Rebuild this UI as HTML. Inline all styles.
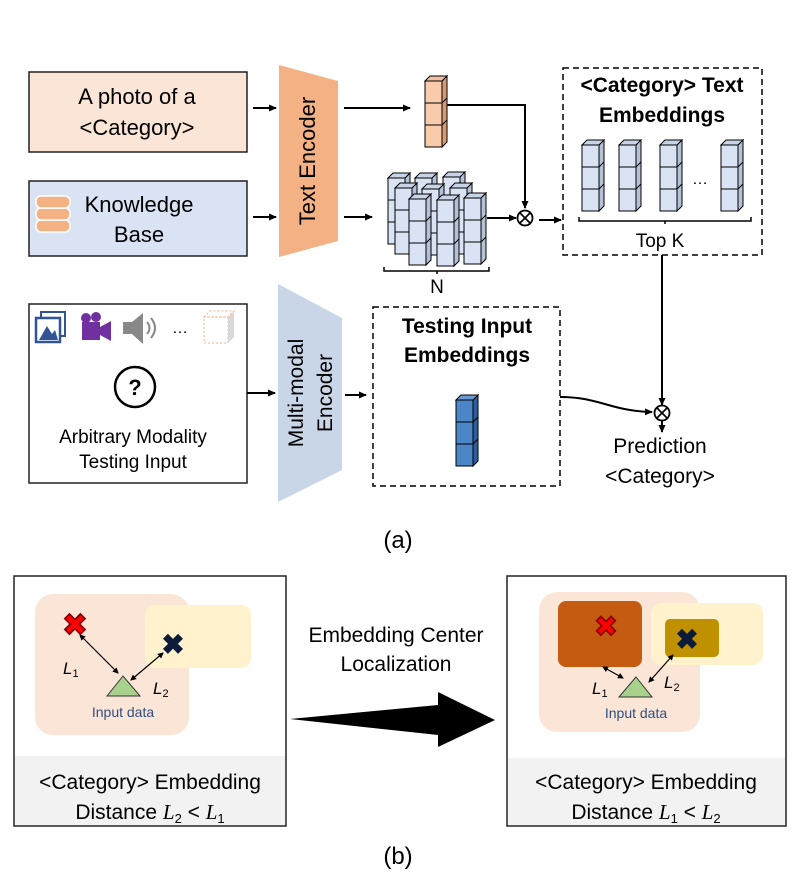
<!DOCTYPE html>
<html><head><meta charset="utf-8"><style>
html,body{margin:0;padding:0;background:#fff}
svg{display:block}
text{font-family:"Liberation Sans",sans-serif}
</style></head><body>
<svg width="797" height="889" viewBox="0 0 797 889" xmlns="http://www.w3.org/2000/svg">
<defs>
<marker id="ah" markerWidth="8" markerHeight="8" refX="7" refY="4" orient="auto" markerUnits="userSpaceOnUse"><path d="M0,0.5 L8,4 L0,7.5 z" fill="#000"/></marker>
<marker id="ahs" markerWidth="6" markerHeight="6" refX="5" refY="3" orient="auto-start-reverse" markerUnits="userSpaceOnUse"><path d="M0,0 L6,3 L0,6 z" fill="#000"/></marker>
<g id="colB">
<polygon points="17,0 22,-5 22,61 17,66" fill="#b4c2d8" stroke="#000" stroke-width="1"/>
<polygon points="0,0 5,-5 22,-5 17,0" fill="#c8d4e8" stroke="#000" stroke-width="1"/>
<rect x="0" y="0" width="17" height="66" fill="#dae3f3" stroke="#000" stroke-width="1"/>
<path d="M0,22 H17 L22,17 M0,44 H17 L22,39" fill="none" stroke="#000" stroke-width="1"/>
</g>
<g id="colO">
<polygon points="17,0 22,-5 22,61 17,66" fill="#d89a70" stroke="#000" stroke-width="1"/>
<polygon points="0,0 5,-5 22,-5 17,0" fill="#f0c0a0" stroke="#000" stroke-width="1"/>
<rect x="0" y="0" width="17" height="66" fill="#f8cbad" stroke="#000" stroke-width="1"/>
<path d="M0,22 H17 L22,17 M0,44 H17 L22,39" fill="none" stroke="#000" stroke-width="1"/>
</g>
<g id="colD">
<polygon points="17,0 22,-5 22,61 17,66" fill="#2e5f9a" stroke="#000" stroke-width="1"/>
<polygon points="0,0 5,-5 22,-5 17,0" fill="#6a9ad4" stroke="#000" stroke-width="1"/>
<rect x="0" y="0" width="17" height="66" fill="#4a86c8" stroke="#000" stroke-width="1"/>
<path d="M0,22 H17 L22,17 M0,44 H17 L22,39" fill="none" stroke="#000" stroke-width="1"/>
</g>
</defs>

<rect x="29" y="72" width="218" height="80" fill="#fbe5d6" stroke="#222" stroke-width="1.5"/>
<text x="137" y="104" font-size="22" text-anchor="middle">A photo of a</text>
<text x="137" y="135" font-size="22" text-anchor="middle">&lt;Category&gt;</text>
<rect x="29" y="181" width="218" height="75" fill="#dae3f3" stroke="#222" stroke-width="1.5"/>
<g fill="#f4b183" stroke="#fff" stroke-width="1.5">
<rect x="36" y="220" width="34" height="12" rx="5"/>
<rect x="36" y="208" width="34" height="12" rx="5"/>
<rect x="36" y="196" width="34" height="12" rx="5"/>
</g>
<text x="139" y="212" font-size="22" text-anchor="middle">Knowledge</text>
<text x="139" y="242" font-size="22" text-anchor="middle">Base</text>
<line x1="253" y1="108" x2="276" y2="108" stroke="#000" stroke-width="2" marker-end="url(#ah)"/>
<line x1="253" y1="217" x2="276" y2="217" stroke="#000" stroke-width="2" marker-end="url(#ah)"/>

<polygon points="279,65 338,81 338,241 279,257" fill="#f4b183"/>
<text transform="translate(315,161) rotate(-90)" font-size="22" text-anchor="middle">Text Encoder</text>
<line x1="344" y1="108" x2="410" y2="108" stroke="#000" stroke-width="2" marker-end="url(#ah)"/>
<line x1="344" y1="217" x2="372" y2="217" stroke="#000" stroke-width="2" marker-end="url(#ah)"/>

<use href="#colO" x="425" y="81"/>
<use href="#colB" x="388" y="178"/><use href="#colB" x="415" y="178"/><use href="#colB" x="443" y="177"/>
<use href="#colB" x="395" y="188"/><use href="#colB" x="422" y="189"/><use href="#colB" x="450" y="188"/>
<use href="#colB" x="409" y="199"/><use href="#colB" x="437" y="200"/><use href="#colB" x="464" y="198"/>
<path d="M384,267 v4 h105 v-4 M437,271 v3" fill="none" stroke="#000" stroke-width="1.5"/>
<text x="437" y="293" font-size="19" text-anchor="middle">N</text>

<path d="M447,105 H525 V208" fill="none" stroke="#000" stroke-width="2" marker-end="url(#ah)"/>
<line x1="487" y1="218" x2="516" y2="218" stroke="#000" stroke-width="2" marker-end="url(#ah)"/>
<circle cx="525" cy="218" r="7.5" fill="#fff" stroke="#000" stroke-width="1.8"/>
<path d="M520,213 L530,223 M530,213 L520,223" stroke="#000" stroke-width="1.6"/>
<line x1="539" y1="220" x2="561" y2="220" stroke="#000" stroke-width="2" marker-end="url(#ah)"/>

<rect x="563" y="68" width="199" height="187" fill="none" stroke="#000" stroke-width="1.5" stroke-dasharray="6,4"/>
<text x="662" y="92" font-size="21" font-weight="bold" text-anchor="middle">&lt;Category&gt; Text</text>
<text x="662" y="122" font-size="21" font-weight="bold" text-anchor="middle">Embeddings</text>
<use href="#colB" x="582" y="145"/><use href="#colB" x="619" y="145"/><use href="#colB" x="660" y="145"/><use href="#colB" x="721" y="145"/>
<text x="700" y="184" font-size="16" text-anchor="middle">…</text>
<path d="M579,217 v4 h172 v-4 M665,221 v3" fill="none" stroke="#000" stroke-width="1.5"/>
<text x="660" y="247" font-size="19" text-anchor="middle">Top K</text>

<line x1="662" y1="255" x2="662" y2="405" stroke="#000" stroke-width="2" marker-end="url(#ah)"/>
<circle cx="662" cy="413" r="7.5" fill="#fff" stroke="#000" stroke-width="1.8"/>
<path d="M657,408 L667,418 M667,408 L657,418" stroke="#000" stroke-width="1.6"/>
<line x1="662" y1="421" x2="662" y2="432" stroke="#000" stroke-width="2" marker-end="url(#ah)"/>
<text x="660" y="453" font-size="21" text-anchor="middle">Prediction</text>
<text x="660" y="483" font-size="21" text-anchor="middle">&lt;Category&gt;</text>

<rect x="29" y="304" width="218" height="179" fill="#fff" stroke="#222" stroke-width="1.5"/>
<g>
<rect x="41" y="312" width="24" height="24" fill="#fff" stroke="#2f5597" stroke-width="2"/>
<rect x="36" y="318" width="24" height="24" fill="#fff" stroke="#2f5597" stroke-width="2.5"/>
<polygon points="39,340 47,326 52,334 55,330 58,340" fill="#2f5597"/>
<rect x="82" y="322" width="18" height="18" fill="#7030a0"/>
<circle cx="86" cy="318" r="5" fill="#7030a0"/><circle cx="96" cy="317" r="5" fill="#7030a0"/>
<polygon points="100,327 111,321 111,341 100,335" fill="#7030a0"/>
<rect x="123" y="322" width="9" height="12" fill="#888"/>
<polygon points="132,322 143,313 143,344 132,334" fill="#888"/>
<path d="M147,322 q5,6 0,12 M151,318 q8,10 0,20" fill="none" stroke="#888" stroke-width="2"/>
<text x="180" y="333" font-size="16" text-anchor="middle">…</text>
<rect x="204" y="317" width="24" height="26" fill="#fff" stroke="#f4b183" stroke-dasharray="2,2"/>
<polygon points="228,317 234,311 234,337 228,343" fill="#d9d9d9"/>
<polygon points="204,317 210,311 234,311 228,317" fill="none" stroke="#f4b183" stroke-dasharray="2,2"/>
</g>
<circle cx="135" cy="387" r="20" fill="none" stroke="#000" stroke-width="2.5"/>
<text x="135" y="395" font-size="22" font-weight="bold" text-anchor="middle">?</text>
<text x="133" y="443" font-size="19" text-anchor="middle">Arbitrary Modality</text>
<text x="133" y="468" font-size="19" text-anchor="middle">Testing Input</text>
<line x1="247" y1="393" x2="275" y2="393" stroke="#000" stroke-width="2" marker-end="url(#ah)"/>

<polygon points="278,284 342,318 342,470 278,502" fill="#c9d6e8"/>
<text transform="translate(303,393) rotate(-90)" font-size="21" text-anchor="middle">Multi-modal</text>
<text transform="translate(332,393) rotate(-90)" font-size="21" text-anchor="middle">Encoder</text>
<line x1="345" y1="395" x2="366" y2="395" stroke="#000" stroke-width="2" marker-end="url(#ah)"/>

<rect x="373" y="307" width="187" height="179" fill="none" stroke="#000" stroke-width="1.5" stroke-dasharray="6,4"/>
<text x="467" y="333" font-size="21" font-weight="bold" text-anchor="middle">Testing Input</text>
<text x="467" y="362" font-size="21" font-weight="bold" text-anchor="middle">Embeddings</text>
<use href="#colD" x="456" y="400"/>
<path d="M560,397 C600,397 610,411 652,412" fill="none" stroke="#000" stroke-width="2" marker-end="url(#ah)"/>

<text x="398" y="548" font-size="24" text-anchor="middle">(a)</text>

<rect x="14" y="576" width="272" height="250" fill="#fff" stroke="#222" stroke-width="1.5"/>
<rect x="15" y="756" width="270" height="69" fill="#f2f2f2"/>
<rect x="35" y="594" width="154" height="141" rx="18" fill="#fbe5d6"/>
<rect x="145" y="605" width="106" height="63" rx="10" fill="#fff2cc"/>
<text x="75" y="635" font-size="30" font-weight="bold" fill="#ff0000" stroke="#800" stroke-width="0.8" text-anchor="middle">✖</text>
<text x="173" y="654" font-size="28" font-weight="bold" fill="#0d1b3a" text-anchor="middle">✖</text>
<line x1="80" y1="635" x2="118" y2="673" stroke="#000" stroke-width="1.2" marker-start="url(#ahs)" marker-end="url(#ahs)"/>
<line x1="163" y1="653" x2="131" y2="680" stroke="#000" stroke-width="1.2" marker-start="url(#ahs)" marker-end="url(#ahs)"/>
<polygon points="123,676 107,696 140,696" fill="#a9d18e" stroke="#333" stroke-width="1"/>
<text x="63" y="674" font-size="17" font-style="italic" font-family="Liberation Serif,serif">L<tspan font-size="11" dy="3" font-style="normal">1</tspan></text>
<text x="153" y="694" font-size="17" font-style="italic" font-family="Liberation Serif,serif">L<tspan font-size="11" dy="3" font-style="normal">2</tspan></text>
<text x="123" y="717" font-size="14" fill="#2f4f80" text-anchor="middle">Input data</text>
<text x="150" y="789" font-size="21" text-anchor="middle">&lt;Category&gt; Embedding</text>
<text x="150" y="819" font-size="21" text-anchor="middle">Distance <tspan font-family="Liberation Serif,serif" font-style="italic">L</tspan><tspan font-size="13" dy="4">2</tspan><tspan dy="-4"> &lt; </tspan><tspan font-family="Liberation Serif,serif" font-style="italic">L</tspan><tspan font-size="13" dy="4">1</tspan></text>

<polygon points="290,719 438,705 438,692 495,720 438,747 438,735" fill="#000"/>
<text x="396" y="642" font-size="21" text-anchor="middle">Embedding Center</text>
<text x="396" y="671" font-size="21" text-anchor="middle">Localization</text>

<rect x="507" y="576" width="279" height="250" fill="#fff" stroke="#222" stroke-width="1.5"/>
<rect x="508" y="758" width="277" height="67" fill="#f2f2f2"/>
<rect x="539" y="592" width="161" height="140" rx="18" fill="#fbe5d6"/>
<rect x="651" y="603" width="112" height="62" rx="10" fill="#fff2cc"/>
<rect x="558" y="601" width="84" height="66" rx="8" fill="#c55a11"/>
<rect x="665" y="619" width="54" height="38" rx="5" fill="#bf9000"/>
<text x="606" y="636" font-size="28" font-weight="bold" fill="#ff0000" stroke="#800" stroke-width="0.8" text-anchor="middle">✖</text>
<text x="687" y="649" font-size="28" font-weight="bold" fill="#0d1b3a" text-anchor="middle">✖</text>
<line x1="603" y1="667" x2="623" y2="678" stroke="#000" stroke-width="1.2" marker-start="url(#ahs)" marker-end="url(#ahs)"/>
<line x1="673" y1="655" x2="649" y2="682" stroke="#000" stroke-width="1.2" marker-start="url(#ahs)" marker-end="url(#ahs)"/>
<polygon points="636,677 619,697 652,697" fill="#a9d18e" stroke="#333" stroke-width="1"/>
<text x="592" y="694" font-size="17" font-style="italic" font-family="Liberation Serif,serif">L<tspan font-size="11" dy="3" font-style="normal">1</tspan></text>
<text x="664" y="688" font-size="17" font-style="italic" font-family="Liberation Serif,serif">L<tspan font-size="11" dy="3" font-style="normal">2</tspan></text>
<text x="636" y="718" font-size="14" fill="#2f4f80" text-anchor="middle">Input data</text>
<text x="646" y="789" font-size="21" text-anchor="middle">&lt;Category&gt; Embedding</text>
<text x="646" y="819" font-size="21" text-anchor="middle">Distance <tspan font-family="Liberation Serif,serif" font-style="italic">L</tspan><tspan font-size="13" dy="4">1</tspan><tspan dy="-4"> &lt; </tspan><tspan font-family="Liberation Serif,serif" font-style="italic">L</tspan><tspan font-size="13" dy="4">2</tspan></text>

<text x="398" y="864" font-size="24" text-anchor="middle">(b)</text>
</svg>
</body></html>
